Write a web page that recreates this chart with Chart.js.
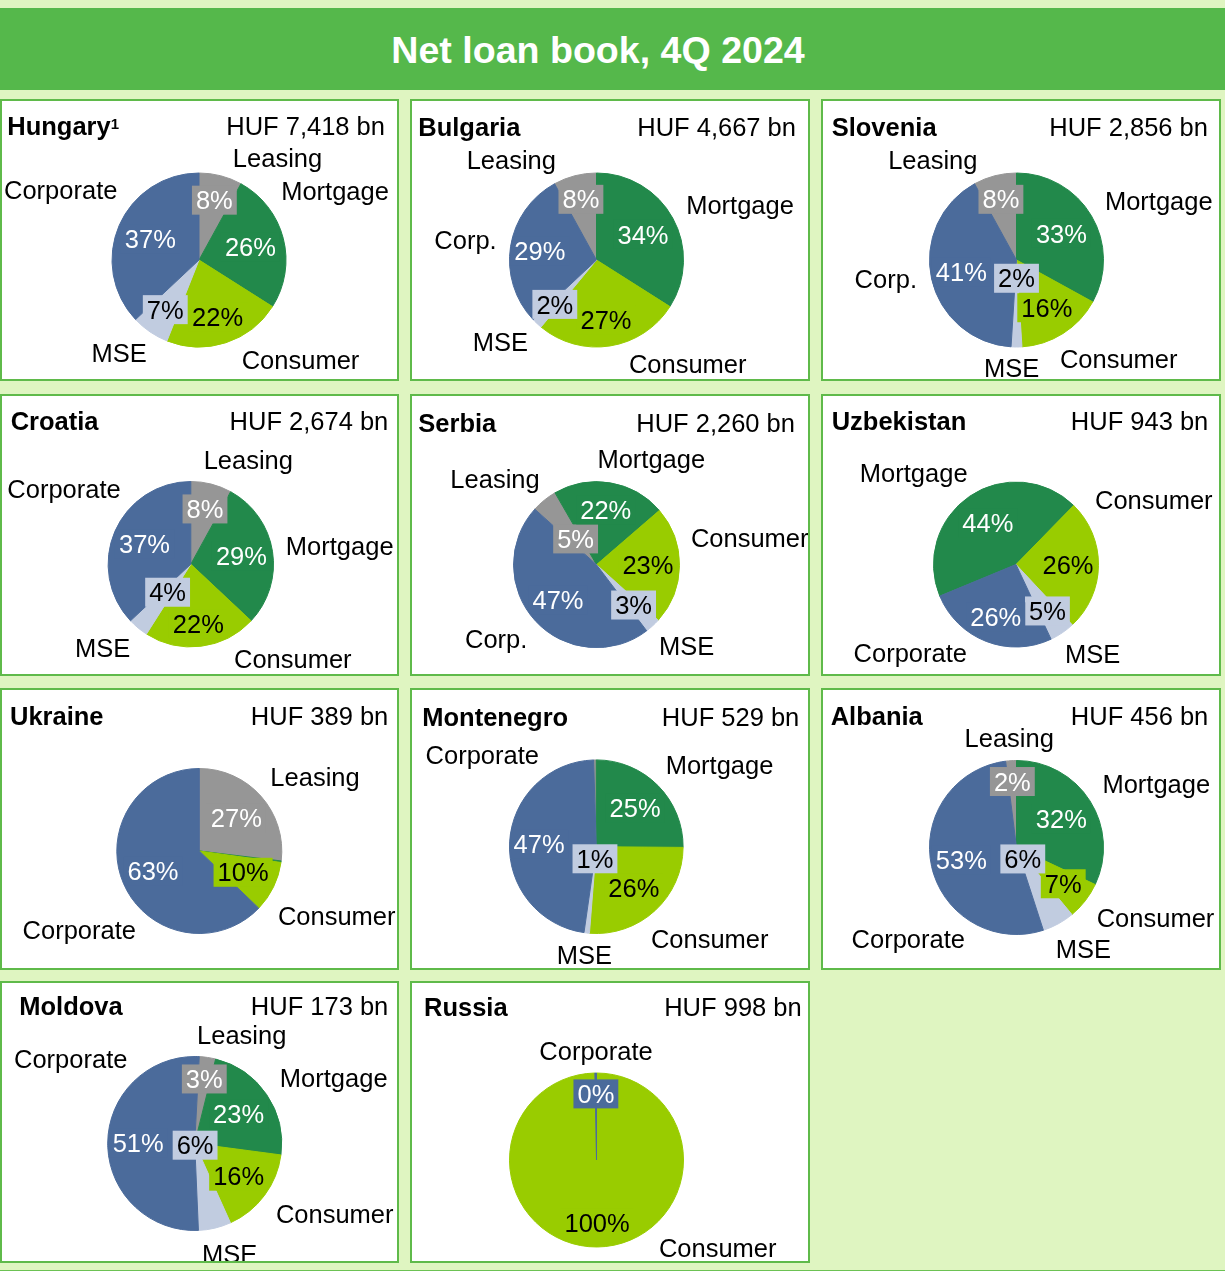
<!DOCTYPE html>
<html>
<head>
<meta charset="utf-8">
<title>Net loan book, 4Q 2024</title>
<script src="https://cdn.jsdelivr.net/npm/chart.js"></script>
<style>
body{margin:0;background:#dff5c1;font-family:"Liberation Sans",Arial,sans-serif;}
#page{position:relative;width:1225px;height:1271px;overflow:hidden;background:#dff5c1;}
#header{position:absolute;left:0;top:8px;width:1225px;height:82px;background:#55b84b;}
#header h1{position:absolute;left:0;top:23.5px;width:1196px;margin:0;text-align:center;color:#fff;font-size:37.6px;line-height:37.6px;font-weight:bold;white-space:nowrap;}
.panel{position:absolute;box-sizing:border-box;border:2px solid #5fba4a;background:#fff;}
.panel canvas{position:absolute;left:0;top:0;}
.name{position:absolute;font-size:25.5px;line-height:25.5px;font-weight:bold;white-space:nowrap;color:#000;}
.name sup{font-size:15px;line-height:0;vertical-align:6px;}
.total{position:absolute;font-size:25.5px;line-height:25.5px;white-space:nowrap;color:#000;text-align:right;}
#bottomLine{position:absolute;left:0;top:1270px;width:1225px;height:1px;background:#6cc254;}
</style>
</head>
<body>
<div id="page">
  <div id="header"><h1>Net loan book, 4Q 2024</h1></div>
  <div id="bottomLine"></div>
</div>
<script>
'use strict';

// loan book split by segment, % of net loans
const segments=['Leasing','Mortgage','Consumer','MSE','Corporate'];
const countries=['Hungary','Bulgaria','Slovenia','Croatia','Serbia','Uzbekistan','Ukraine','Montenegro','Albania','Moldova','Russia'];
const totals=[7418,4667,2856,2674,2260,943,389,529,456,173,998]; // HUF bn
const shortCorp=['Bulgaria','Slovenia','Serbia'];

const hungary=[8,26,22,7,37];
const bulgaria=[8,34,27,2,29];
const slovenia=[8,33,16,2,41];
const croatia=[8,29,22,4,37];
const serbia=[5,22,23,3,47];
const uzbekistan=[0,44,26,5,26];
const ukraine=[27,0.3,10,0,63];
const montenegro=[0.5,25,26,1,47];
const albania=[2,32,7,6,53];
const moldova=[3,23,16,6,51];
const russia=[0,0,99.7,0,0.3];
const shares=[hungary,bulgaria,slovenia,croatia,serbia,uzbekistan,ukraine,montenegro,albania,moldova,russia];

// styles
const sliceColors=['#969696','#22894b','#99cc00','#c1cce0','#4b6b9b'];
const valueColors=['#ffffff','#ffffff','#000000','#000000','#ffffff'];
const FONT='"Liberation Sans", Arial, sans-serif';
const FONT_SIZE=25.5;

// layout
const panelX=[0,410,821];
const panelW=[399,400,400];
const panelY=[99,394,688,981];
const panelH=282;

// pie centre x, y and radius (page px)
const pies=[[199,260,87.5],[596.5,260,87.5],[1016.5,260,87.5],
            [190.8,564.2,83.2],[596.5,564.7,83.5],[1016,564.5,83],
            [199.3,851,83],[596.3,846.7,87.3],[1016.5,847.5,87.5],
            [194.7,1143.5,87.5],[596.5,1160,87.5]];
const rotations=[0,-28.8,-28.8,0,-48,247.5,0,-1.8,-7.2,3,0];

// where the % label sits, as share of the radius along the slice middle
const labelRadius=[
  [.71,.61,.69,.69,.61],
  [.72,.61,.70,.70,.66],
  [.72,.60,.65,.21,.65],
  [.69,.62,.73,.44,.61],
  [.40,.67,.62,.66,.63],
  [null,.61,.63,.68,.68],
  [.60,null,.59,null,.61],
  [null,.63,.64,.14,.66],
  [.76,.61,.68,.15,.65],
  [.75,.61,.63,.02,.65],
  [null,null,.72,null,.76]
];

// segment names around each pie (centre x, middle of caps y)
const namePos=[
  [[277.5,157.4],[335,191],[300.5,360.3],[119.2,353.3],[60.7,190]],
  [[511.3,159.9],[740,204.4],[687.7,364.2],[500.3,342.2],[465.5,239.6]],
  [[932.8,159.6],[1158.8,201.1],[1118.7,359.2],[1011.7,368.3],[885.8,279.1]],
  [[248.3,459.9],[339.7,545.7],[292.8,659.2],[102.7,647.8],[64,488.6]],
  [[495,479.1],[651.3,459.1],[749.7,538],[686.7,646.2],[496.2,639.1]],
  [null,[913.7,472.4],[1153.8,499.7],[1092.7,654.2],[910.3,652.9]],
  [[315,777.1],null,[336.7,916.3],null,[79.3,929.9]],
  [null,[719.5,764.4],[709.7,938.8],[584.3,955],[482.3,754.4]],
  [[1009.2,737.4],[1156.3,784.1],[1155.5,917.5],[1083.3,949.2],[908.3,939.1]],
  [[241.7,1035.1],[333.7,1077.9],[334.7,1214.2],[229.7,1253.8],[70.7,1058.7]],
  [null,null,[717.7,1247.5],null,[596,1050.4]]
];

// titles: left x of country, caps middle y, right end of total
const titleLeft=[7.3,418.3,831.7,10.7,418.3,831.7,10,422.3,830.7,19.3,424];
const titleY=[126.2,127.5,127,421.7,423.3,421.3,716,717,716.7,1006.3,1007];
const totalRight=[385,796,1208,388.3,795,1208.3,388.3,799.3,1208.3,388.3,801.7];

const page=document.getElementById('page');

function labelPlugin(k,ox,oy){
  return {
    id:'sliceLabels'+k,
    afterDatasetsDraw(chart){
      const ctx=chart.ctx;
      const meta=chart.getDatasetMeta(0);
      const values=chart.data.datasets[0].data;
      const lift=FONT_SIZE*0.358;
      ctx.save();
      ctx.font=FONT_SIZE+'px '+FONT;
      ctx.textAlign='center';
      ctx.textBaseline='alphabetic';

      // percentages, boxed in the slice colour (box kept inside the pie)
      for(let i=0;i<meta.data.length;i++){
        const f=labelRadius[k][i];
        if(f==null) continue;
        const arc=meta.data[i];
        const mid=(arc.startAngle+arc.endAngle)/2;
        const lx=arc.x+Math.cos(mid)*arc.outerRadius*f;
        const ly=arc.y+Math.sin(mid)*arc.outerRadius*f;
        const text=Math.round(values[i])+'%';
        const w=ctx.measureText(text).width+8;
        ctx.save();
        ctx.beginPath();
        ctx.arc(arc.x,arc.y,arc.outerRadius,0,Math.PI*2);
        ctx.clip();
        ctx.fillStyle=sliceColors[i];
        ctx.fillRect(lx-w/2,ly-14.5,w,29);
        ctx.restore();
        ctx.fillStyle=valueColors[i];
        ctx.fillText(text,lx,ly+lift);
      }

      // segment names
      ctx.fillStyle='#000';
      for(let i=0;i<chart.data.labels.length;i++){
        const p=namePos[k][i];
        if(!p) continue;
        ctx.fillText(chart.data.labels[i],p[0]-ox,p[1]-oy+lift);
      }
      ctx.restore();
    }
  };
}

for(let k=0;k<countries.length;k++){
  const col=k%3;
  const row=Math.floor(k/3);
  const px=panelX[col];
  const py=panelY[row];
  const pw=panelW[col];

  const panel=document.createElement('div');
  panel.className='panel';
  panel.style.left=px+'px';
  panel.style.top=py+'px';
  panel.style.width=pw+'px';
  panel.style.height=panelH+'px';
  page.appendChild(panel);

  // canvas fills the inside of the border
  const ox=px+2;
  const oy=py+2;
  const W=pw-4;
  const H=panelH-4;
  const canvas=document.createElement('canvas');
  canvas.width=W;
  canvas.height=H;
  canvas.style.width=W+'px';
  canvas.style.height=H+'px';
  panel.appendChild(canvas);

  const cx=pies[k][0]-ox;
  const cy=pies[k][1]-oy;
  const r=pies[k][2];

  const labels=segments.map(function(s){
    if(s==='Corporate' && shortCorp.includes(countries[k])) return 'Corp.';
    return s;
  });

  new Chart(canvas,{
    type:'pie',
    data:{
      labels:labels,
      datasets:[{
        data:shares[k],
        backgroundColor:sliceColors,
        borderColor:sliceColors,
        borderWidth:1
      }]
    },
    options:{
      responsive:false,
      animation:false,
      events:[],
      rotation:rotations[k],
      layout:{padding:{left:cx-r,top:cy-r,right:W-(cx+r),bottom:H-(cy+r)}},
      plugins:{legend:{display:false},tooltip:{enabled:false}}
    },
    plugins:[labelPlugin(k,ox,oy)]
  });

  // title row
  const name=document.createElement('div');
  name.className='name';
  name.style.left=titleLeft[k]+'px';
  name.style.top=(titleY[k]-12.4)+'px';
  name.innerHTML=countries[k]+(k===0?'<sup>1</sup>':'');
  page.appendChild(name);

  const total=document.createElement('div');
  total.className='total';
  total.style.right=(1225-totalRight[k])+'px';
  total.style.top=(titleY[k]-12.4)+'px';
  total.textContent='HUF '+totals[k].toLocaleString('en-US')+' bn';
  page.appendChild(total);
}
</script>
</body>
</html>
